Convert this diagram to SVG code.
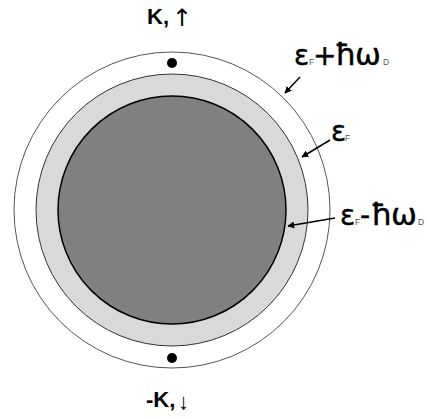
<svg xmlns="http://www.w3.org/2000/svg" width="427" height="419" viewBox="0 0 427 419">
<style>
.k{font-family:"Liberation Sans",Arial,sans-serif;font-weight:bold;font-size:22px;fill:#000}
.ua{font-family:"DejaVu Sans",sans-serif;font-size:24px;fill:#000}
.da{font-family:"Liberation Sans",Arial,sans-serif;font-size:22px;fill:#000}
.g{font-family:"DejaVu Sans",sans-serif;font-size:28px;fill:#000;stroke:#000;stroke-width:0.4}
.h{font-size:31px}
.s{font-family:"Liberation Sans",Arial,sans-serif;font-size:8.5px;fill:#555;stroke:none}
.ar{stroke:#000;stroke-width:1.5;fill:none;marker-end:url(#ah)}
</style>
<defs>
<marker id="ah" viewBox="0 0 10 10" refX="9" refY="5" markerWidth="7" markerHeight="7" markerUnits="userSpaceOnUse" orient="auto">
<path d="M0,0 L10,5 L0,10 z" fill="#000"/>
</marker>
</defs>
<rect width="427" height="419" fill="#fff"/>
<g id="outer"><circle cx="172" cy="210" r="158" fill="#fff" stroke="#555" stroke-width="1"/></g>
<g id="middle"><circle cx="172" cy="210" r="136" fill="#d9d9d9" stroke="#333" stroke-width="1"/></g>
<g id="inner"><circle cx="172" cy="210" r="114" fill="#808080" stroke="#000" stroke-width="1.5"/></g>
<g id="dotTop"><circle cx="172" cy="63" r="5" fill="#000"/></g>
<g id="dotBottom"><circle cx="172" cy="358" r="5" fill="#000"/></g>
<g id="labelTop"><text class="k" x="147" y="24">K,</text><text class="ua" x="172" y="26">↑</text></g>
<g id="labelBottom"><text class="k" x="146" y="407">-K,</text><text class="da" x="178" y="409">↓</text></g>
<g id="labelOuter">
<text class="g" x="294" y="65">ε</text><text class="s" x="309" y="65">F</text>
<text class="g" x="313" y="65">+</text><text class="g h" x="335" y="65">ħ</text><text class="g h" x="355" y="65">ω</text>
<text class="s" x="383" y="65">D</text></g>
<g id="labelMiddle"><text class="g" x="331" y="141">ε</text><text class="s" x="345" y="141">F</text></g>
<g id="labelInner">
<text class="g" x="340" y="225">ε</text><text class="s" x="355" y="225">F</text>
<text class="g" x="360" y="225">-</text><text class="g h" x="371" y="225">ħ</text><text class="g h" x="391" y="225">ω</text>
<text class="s" x="418" y="225">D</text></g>
<g id="connectors">
<line class="ar" x1="300" y1="77" x2="285" y2="93"/>
<line class="ar" x1="330" y1="140" x2="302" y2="157"/>
<line class="ar" x1="335" y1="218" x2="288" y2="226"/>
</g>
</svg>
